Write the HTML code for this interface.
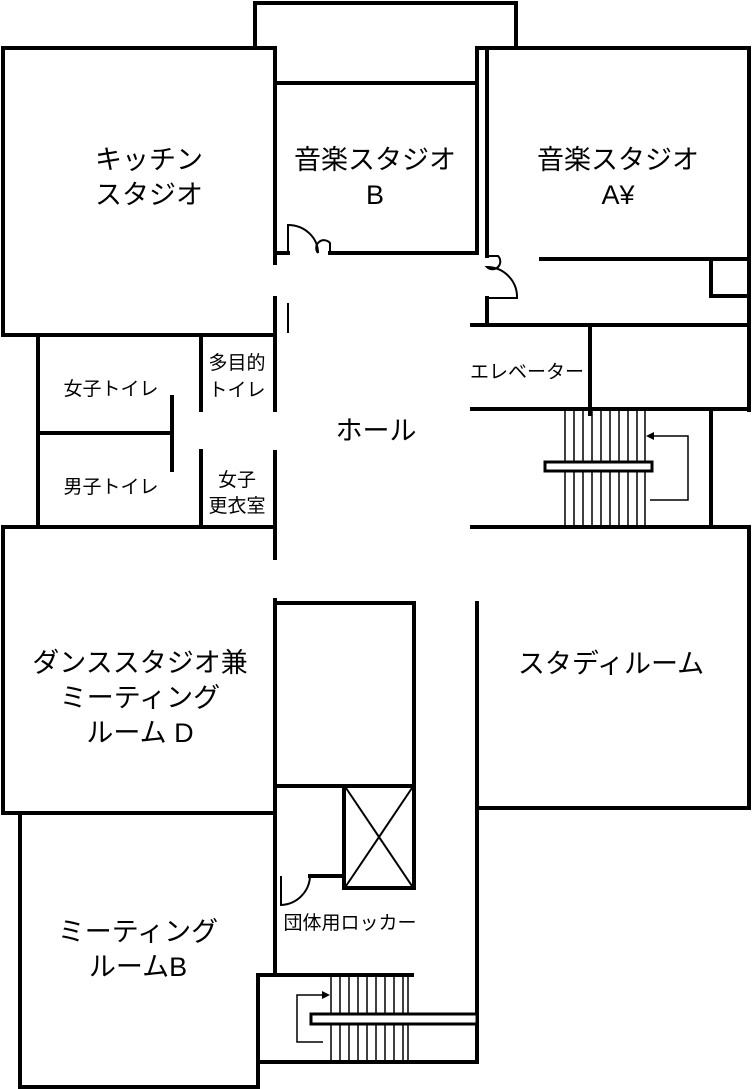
<!DOCTYPE html>
<html><head><meta charset="utf-8"><style>
html,body{margin:0;padding:0;background:#fff;}
svg{display:block}
text{font-family:"Liberation Sans","Noto Sans CJK JP",sans-serif;fill:#000;text-anchor:middle}
</style></head><body>
<svg width="752" height="1089" viewBox="0 0 752 1089" xmlns="http://www.w3.org/2000/svg">
<g stroke="#000" stroke-width="4" fill="none" stroke-linecap="square">
<polyline points="255,48 255,3 516,3 516,48"/>
<polyline points="275,48 3,48 3,335 275,335"/>
<line x1="275" y1="48" x2="275" y2="263"/>
<line x1="275" y1="83" x2="477" y2="83"/>
<line x1="477" y1="48" x2="477" y2="253"/>
<line x1="477" y1="48" x2="487" y2="48"/>
<line x1="275" y1="253" x2="288" y2="253"/>
<line x1="330" y1="253" x2="477" y2="253"/>
<polyline points="487,48 749,48 749,410"/>
<line x1="487" y1="48" x2="487" y2="256"/>
<line x1="487" y1="298" x2="487" y2="325"/>
<line x1="541" y1="259" x2="749" y2="259"/>
<polyline points="749,296 711,296 711,259"/>
<line x1="472" y1="325" x2="749" y2="325"/>
<line x1="590" y1="325" x2="590" y2="414"/>
<line x1="472" y1="409" x2="749" y2="409"/>
<polyline points="749,409 711,409 711,527 749,527"/>
<line x1="472" y1="527" x2="711" y2="527"/>
<line x1="275" y1="298" x2="275" y2="410"/>
<line x1="275" y1="452" x2="275" y2="558"/>
<polyline points="3,335 38,335 38,527 3,527"/>
<line x1="38" y1="433" x2="172" y2="433"/>
<line x1="172" y1="397" x2="172" y2="470"/>
<line x1="201" y1="337" x2="201" y2="410"/>
<line x1="201" y1="451" x2="201" y2="527"/>
<line x1="38" y1="527" x2="275" y2="527"/>
<polyline points="3,527 3,813 275,813"/>
<line x1="275" y1="600" x2="275" y2="975"/>
<polyline points="20,813 20,1087 258,1087 258,975 412,975"/>
<polyline points="275,603 414,603 414,888"/>
<line x1="275" y1="786" x2="414" y2="786"/>
<rect x="344" y="786" width="70" height="102"/>
<line x1="310" y1="876" x2="344" y2="876"/>
<line x1="477" y1="603" x2="477" y2="1062"/>
<polyline points="477,808 749,808 749,527"/>
<line x1="258" y1="1062" x2="477" y2="1062"/>
</g>
<g stroke="#000" stroke-width="2" fill="none">
<path d="M288,253 L288,225 A30,28 0 0 1 318,253"/>
<path d="M318,253 A6,6 0 0 1 330,243 L330,253"/>
<path d="M487,256 L498,256 A6,6 0 0 1 487,267 A30,30 0 0 1 517,298 L487,298"/>
<line x1="288" y1="303" x2="288" y2="333"/>
<line x1="346" y1="788" x2="412" y2="886"/>
<line x1="412" y1="788" x2="346" y2="886"/>
<path d="M281,876 L281,905 A30,30 0 0 0 310,876"/>
<g stroke-width="1.5">
<line x1="565" y1="410" x2="565" y2="527"/><line x1="574" y1="410" x2="574" y2="527"/>
<line x1="583" y1="410" x2="583" y2="527"/><line x1="592" y1="410" x2="592" y2="527"/>
<line x1="601" y1="410" x2="601" y2="527"/><line x1="610" y1="410" x2="610" y2="527"/>
<line x1="619" y1="410" x2="619" y2="527"/><line x1="628" y1="410" x2="628" y2="527"/>
<line x1="637" y1="410" x2="637" y2="527"/><line x1="645" y1="410" x2="645" y2="527"/>
</g>
<rect x="545" y="462" width="107" height="9" fill="#fff" stroke-width="3"/>
<polyline points="650,500 688,500 688,436 652,436" stroke-width="1.5"/>
<g stroke-width="1.5">
<line x1="331" y1="976" x2="331" y2="1062"/><line x1="340" y1="976" x2="340" y2="1062"/>
<line x1="349" y1="976" x2="349" y2="1062"/><line x1="358" y1="976" x2="358" y2="1062"/>
<line x1="367" y1="976" x2="367" y2="1062"/><line x1="376" y1="976" x2="376" y2="1062"/>
<line x1="385" y1="976" x2="385" y2="1062"/><line x1="394" y1="976" x2="394" y2="1062"/>
<line x1="403" y1="976" x2="403" y2="1062"/><line x1="408" y1="976" x2="408" y2="1062"/>
</g>
<rect x="311" y="1014" width="166" height="10" fill="#fff" stroke-width="3"/>
<polyline points="323,1042 297,1042 297,995 324,995" stroke-width="1.5"/>
</g>
<polygon points="646,436 654,432 654,440" fill="#000"/>
<polygon points="330,995 322,991 322,999" fill="#000"/>
<g font-size="27">
<text x="149" y="169">キッチン</text><text x="149" y="204">スタジオ</text>
<text x="375" y="169">音楽スタジオ</text><text x="375" y="204">B</text>
<text x="618" y="169">音楽スタジオ</text><text x="618" y="204">A¥</text>
<text x="376" y="440">ホール</text>
<text x="140" y="672">ダンススタジオ兼</text><text x="140" y="707">ミーティング</text><text x="140" y="742">ルーム D</text>
<text x="611" y="673">スタディルーム</text>
<text x="138" y="941">ミーティング</text><text x="138" y="976">ルームB</text>
</g>
<g font-size="19">
<text x="527" y="378">エレベーター</text>
<text x="111" y="395">女子トイレ</text>
<text x="111" y="493">男子トイレ</text>
<text x="237" y="369">多目的</text><text x="237" y="396">トイレ</text>
<text x="237" y="486">女子</text><text x="237" y="512">更衣室</text>
<text x="350" y="929">団体用ロッカー</text>
</g>
</svg>
</body></html>
